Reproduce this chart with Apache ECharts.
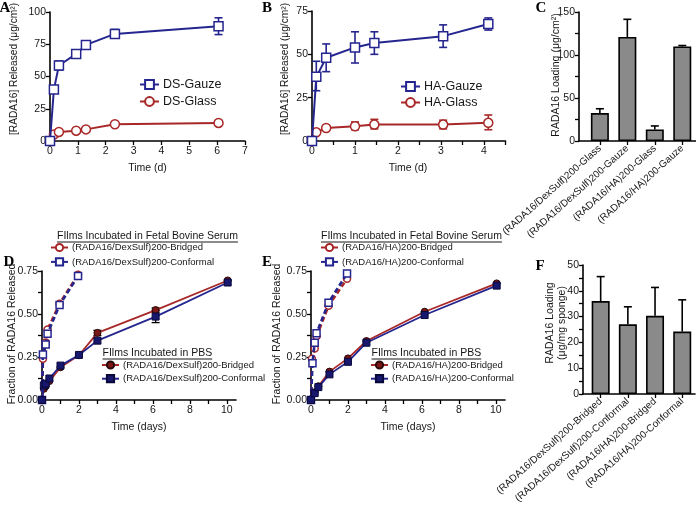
<!DOCTYPE html>
<html><head><meta charset="utf-8">
<script src="https://cdn.jsdelivr.net/npm/echarts@6/dist/echarts.min.js"></script>
<style>html,body{margin:0;padding:0;background:#fff}#c{width:696px;height:509px}</style>
</head><body><div id="c"></div><script>
// ---------- DATA ----------
// Panel A (DS) : [time (d), released ug/cm2]
const aGauze = [[0,0],[0.14,40],[0.32,58.5],[0.94,67.5],[1.29,74.5],[2.33,83],[6.05,89]];
const aGauzeErr = [[0.32,55,62],[0.94,65.5,69.5],[2.33,80,86.5],[6.05,82.5,95.5]];
const aGlass = [[0,0],[0.14,5],[0.32,7],[0.94,8],[1.29,9],[2.33,13],[6.05,14]];
// Panel B (HA)
const bGauze = [[0,0],[0.1,37],[0.33,48],[1.0,54],[1.45,56.5],[3.05,60.5],[4.1,67.5]];
const bGauzeErr = [[0.1,29,46],[0.33,40,56],[1.0,45,63],[1.45,50,63],[3.05,54,67],[4.1,64,71]];
const bGlass = [[0,0],[0.1,5],[0.33,7.5],[1.0,8.5],[1.45,9.5],[3.05,9.5],[4.1,10.5]];
const bGlassErr = [[0.33,6.5,8.5],[1.0,6.5,11],[1.45,7,12.5],[3.05,7,12],[4.1,6.5,15]];
// Panel C
const cCats = ['(RADA16/DexSulf)200-Glass','(RADA16/DexSulf)200-Gauze','(RADA16/HA)200-Glass','(RADA16/HA)200-Gauze'];
const cVals = [32.5,121,13.5,110];
const cErrHigh = [37.5,141.5,17.5,111];
// Panel D
const dSerumBridged = [[0,0],[0.05,0.24],[0.2,0.335],[0.3,0.41],[0.95,0.56],[1.95,0.728]];
const dSerumConformal = [[0,0],[0.05,0.265],[0.2,0.323],[0.3,0.385],[0.95,0.552],[1.95,0.721]];
const dPbsBridged = [[0,0],[0.1,0.065],[0.2,0.08],[0.4,0.11],[1.0,0.19],[2.0,0.26],[3.0,0.39],[6.15,0.523],[10.05,0.695]];
const dPbsConformal = [[0,0],[0.1,0.085],[0.2,0.095],[0.4,0.125],[1.0,0.2],[2.0,0.262],[3.0,0.345],[6.15,0.485],[10.05,0.683]];
const dPbsBridgedErr = [[3.0,0.375,0.405],[6.15,0.51,0.535]];
const dPbsConformalErr = [[6.15,0.45,0.52]];
// Panel E
const eSerumBridged = [[0,0],[0.05,0.24],[0.2,0.30],[0.3,0.37],[0.95,0.548],[1.95,0.705]];
const eSerumConformal = [[0,0],[0.08,0.213],[0.2,0.333],[0.3,0.388],[0.95,0.566],[1.95,0.736]];
const ePbsBridged = [[0,0],[0.2,0.045],[0.4,0.08],[1.0,0.165],[2.0,0.242],[3.0,0.343],[6.15,0.513],[10.05,0.678]];
const ePbsConformal = [[0,0],[0.2,0.04],[0.4,0.075],[1.0,0.149],[2.0,0.222],[3.0,0.333],[6.15,0.494],[10.05,0.665]];
// Panel F
const fCats = ['(RADA16/DexSulf)200-Bridged','(RADA16/DexSulf)200-Conformal','(RADA16/HA)200-Bridged','(RADA16/HA)200-Conformal'];
const fVals = [36,27,30.3,24.2];
const fErrHigh = [45.5,33.8,41.3,36.5];
// Tick labels
const aXTicks = [0,1,2,3,4,5,6,7];
const bXLabels = [0,1,2,3,4];
const deXLabels = [0,2,4,6,8,10];
const deYLabels = ['0.00','0.25','0.50','0.75'];

// ---------- STYLE ----------
const NAVY='#25258f', RED='#a82828', MAROON='#7a1616', DNAVY='#17176e', GRAY='#8a8a8a';
const FONT='"Liberation Sans", Arial, sans-serif';
const TXT='#161616';

function axis(type, gi, min, max, extra){
  const o = {type:'value', gridIndex:gi, min:min, max:max,
    splitLine:{show:false},
    axisLine:{show:true, onZero:false, lineStyle:{color:'#000', width:1.6}},
    axisTick:{show:true, length:4, inside:false, lineStyle:{color:'#000', width:1.3}},
    axisLabel:{color:TXT, fontSize:10.5, fontFamily:FONT, margin: type==='x'?5:4}
  };
  if(extra){
    for(const k in extra){
      if(typeof extra[k]==='object' && !Array.isArray(extra[k]) && o[k]) o[k]=Object.assign({},o[k],extra[k]);
      else o[k]=extra[k];
    }
  }
  return o;
}

const chart = echarts.init(document.getElementById('c'));

const grids = [
  {left:50, top:12, width:195, height:129},     // A
  {left:312, top:11, width:193.5, height:130},  // B
  {left:579, top:12, width:118, height:129},    // C
  {left:42, top:271, width:194, height:129},    // D
  {left:311, top:271, width:194, height:129},   // E
  {left:583, top:265, width:112, height:129}    // F
];

const xAxes = [
  axis('x',0,0,7,{interval:1}),
  axis('x',1,0,4.5,{interval:0.5, axisLabel:{customValues:bXLabels}}),
  axis('x',2,-0.76,3.5,{axisTick:{customValues:[0,1,2,3]}, axisLabel:{customValues:[0,1,2,3], rotate:42, fontSize:10, margin:6, formatter:v=>cCats[Math.round(v)]}}),
  axis('x',3,0,10.5,{interval:1, axisTick:{customValues:[0,1,2,3,4,5,6,7,8,9,10]}, axisLabel:{customValues:deXLabels}}),
  axis('x',4,0,10.5,{interval:1, axisTick:{customValues:[0,1,2,3,4,5,6,7,8,9,10]}, axisLabel:{customValues:deXLabels}}),
  axis('x',5,-0.65,3.47,{axisTick:{customValues:[0,1,2,3]}, axisLabel:{customValues:[0,1,2,3], rotate:42, fontSize:10, margin:6, formatter:v=>fCats[Math.round(v)]}})
];
const yAxes = [
  axis('y',0,0,100,{interval:25}),
  axis('y',1,0,75,{interval:25}),
  axis('y',2,0,150,{interval:50, minorTick:{show:true, splitNumber:2, length:4, lineStyle:{color:'#000', width:1.3}}}),
  axis('y',3,0,0.75,{interval:0.25, minorTick:{show:true, splitNumber:2, length:4, lineStyle:{color:'#000', width:1.3}}, axisLabel:{formatter:v=>deYLabels[Math.round(v/0.25)]}}),
  axis('y',4,0,0.75,{interval:0.25, minorTick:{show:true, splitNumber:2, length:4, lineStyle:{color:'#000', width:1.3}}, axisLabel:{formatter:v=>deYLabels[Math.round(v/0.25)]}}),
  axis('y',5,0,50,{interval:10, minorTick:{show:true, splitNumber:2, length:4, lineStyle:{color:'#000', width:1.3}}})
];

function lineS(name, gi, data, color, symbol, filled, opts){
  opts = opts||{};
  return {type:'line', name:name, xAxisIndex:gi, yAxisIndex:gi, data:data, clip:false,
    symbol:symbol, symbolSize:opts.size||8, z:opts.z||3,
    lineStyle:{color:color, width:opts.lw||2, type:opts.dash?[5,3]:'solid'},
    itemStyle:{color: filled?(opts.fill||color):'#fff', borderColor: opts.edge||color, borderWidth:opts.bw||1.5},
    emphasis:{disabled:true}, animation:false};
}
function errS(gi, data, color, lw, capLow, z){
  return {type:'custom', xAxisIndex:gi, yAxisIndex:gi, data:data, clip:false, z:z||2, silent:true, animation:false,
    encode:{x:0, y:[1,2]},
    renderItem:function(params, api){
      const x=api.value(0), lo=api.value(1), hi=api.value(2);
      const a=api.coord([x,lo]), b=api.coord([x,hi]);
      const w=4, st={stroke:color, lineWidth:lw};
      const ch=[{type:'line', shape:{x1:a[0],y1:a[1],x2:b[0],y2:b[1]}, style:st},
                {type:'line', shape:{x1:b[0]-w,y1:b[1],x2:b[0]+w,y2:b[1]}, style:st}];
      if(capLow) ch.push({type:'line', shape:{x1:a[0]-w,y1:a[1],x2:a[0]+w,y2:a[1]}, style:st});
      return {type:'group', children:ch};
    }};
}
function barS(gi, vals, w){
  return {type:'bar', xAxisIndex:gi, yAxisIndex:gi, data:vals.map((v,i)=>[i,v]), barWidth:w, z:2, animation:false,
    itemStyle:{color:GRAY, borderColor:'#000', borderWidth:1.6}};
}

const labelMap = {
  aG:'DS-Gauze', aL:'DS-Glass', bG:'HA-Gauze', bL:'HA-Glass',
  dSB:'(RADA16/DexSulf)200-Bridged', dSC:'(RADA16/DexSulf)200-Conformal',
  dPB:'(RADA16/DexSulf)200-Bridged', dPC:'(RADA16/DexSulf)200-Conformal',
  eSB:'(RADA16/HA)200-Bridged', eSC:'(RADA16/HA)200-Conformal',
  ePB:'(RADA16/HA)200-Bridged', ePC:'(RADA16/HA)200-Conformal'
};

const series = [
  // A
  errS(0, aGauzeErr, NAVY, 1.6, true),
  lineS('aL',0,aGlass,RED,'circle',false,{size:9}),
  lineS('aG',0,aGauze,NAVY,'rect',false,{size:9,z:4}),
  // B
  errS(1, bGlassErr, RED, 1.6, true),
  errS(1, bGauzeErr, NAVY, 1.6, true),
  lineS('bL',1,bGlass,RED,'circle',false,{size:9}),
  lineS('bG',1,bGauze,NAVY,'rect',false,{size:9,z:4}),
  // C
  barS(2, cVals, 18),
  errS(2, cVals.map((v,i)=>[i,v,cErrHigh[i]]), '#000', 1.6, false, 1),
  // D
  lineS('dSB',3,dSerumBridged,RED,'circle',false,{size:7,dash:true,lw:2.6}),
  lineS('dSC',3,dSerumConformal,NAVY,'rect',false,{size:7,dash:true,lw:2.6,z:4}),
  errS(3, dPbsBridgedErr, '#000', 1.3, true),
  errS(3, dPbsConformalErr, '#000', 1.3, true),
  lineS('dPB',3,dPbsBridged,RED,'circle',true,{size:7,fill:MAROON,edge:'#2a0808',bw:1,lw:1.8}),
  lineS('dPC',3,dPbsConformal,NAVY,'rect',true,{size:7,fill:DNAVY,edge:'#08083a',bw:1,lw:1.8,z:4}),
  // E
  lineS('eSB',4,eSerumBridged,RED,'circle',false,{size:7,dash:true,lw:2.6}),
  lineS('eSC',4,eSerumConformal,NAVY,'rect',false,{size:7,dash:true,lw:2.6,z:4}),
  lineS('ePB',4,ePbsBridged,RED,'circle',true,{size:7,fill:MAROON,edge:'#2a0808',bw:1,lw:1.8}),
  lineS('ePC',4,ePbsConformal,NAVY,'rect',true,{size:7,fill:DNAVY,edge:'#08083a',bw:1,lw:1.8,z:4}),
  // F
  barS(5, fVals, 18),
  errS(5, fVals.map((v,i)=>[i,v,fErrHigh[i]]), '#000', 1.6, false, 1)
];

function legend(names, left, top, iw, ih, gap, fs){
  return {data:names, left:left, top:top, orient:'vertical', itemWidth:iw, itemHeight:ih, itemGap:gap,
    selectedMode:false, padding:0, formatter:n=>labelMap[n],
    lineStyle:{type:'solid'},
    textStyle:{color:TXT, fontSize:fs, fontFamily:FONT, padding:[0,0,0,-1]}};
}
const legends = [
  legend(['aG','aL'],139,78,19,11,4,12.5),
  legend(['bG','bL'],400,80,19,11,3,12.5),
  legend(['dSB','dSC'],50,242.5,17,9,4.4,9.5),
  legend(['dPB','dPC'],101,360,17,9,3.7,9.5),
  legend(['eSB','eSC'],320,242.5,17,9,4.4,9.5),
  legend(['ePB','ePC'],370,360,17,9,3.7,9.5)
];

// text measurement for underlines
const mctx = document.createElement('canvas').getContext('2d');
function tw(t, font){ mctx.font=font; return mctx.measureText(t).width; }
const TF = '10.5px "Liberation Sans"';
function underlined(t, x, y){
  const w = tw(t, TF);
  return [{type:'text', x:x, y:y, style:{text:t, font:TF, fill:TXT, align:'left', verticalAlign:'middle'}},
          {type:'line', shape:{x1:x, y1:y+6, x2:x+w, y2:y+6}, style:{stroke:TXT, lineWidth:1}}];
}
function vtext(t, x, y, fs){
  return {type:'text', x:x, y:y, rotation:Math.PI/2, style:{text:t, font:(fs||10.5)+'px "Liberation Sans"', fill:TXT, align:'center', verticalAlign:'middle'}};
}
function htext(t, x, y){
  return {type:'text', x:x, y:y, style:{text:t, font:'10.5px "Liberation Sans"', fill:TXT, align:'center', verticalAlign:'middle'}};
}
function plabel(t, x, y){
  return {type:'text', x:x, y:y, style:{text:t, font:'bold 15px "Liberation Serif"', fill:'#000', align:'center', verticalAlign:'middle'}};
}

const graphics = [
  plabel('A',5,8), plabel('B',267,8), plabel('C',541,8),
  plabel('D',9,262), plabel('E',267,262), plabel('F',540,266),
  vtext('[RADA16] Released (μg/cm²)',14,69,10.2),
  vtext('[RADA16] Released (μg/cm²)',285,69,10.2),
  vtext('RADA16 Loading (μg/cm²)',556,75,10.5),
  vtext('Fraction of RADA16 Released',12,334,10.5),
  vtext('Fraction of RADA16 Released',277,334,10.5),
  vtext('RADA16 Loading',550,323,10.5),
  vtext('(μg/mg sponge)',562,323,10.5),
  htext('Time (d)',147.5,168), htext('Time (d)',408,168),
  htext('Time (days)',139,427), htext('Time (days)',408,427)
].concat(underlined('FIlms Incubated in Fetal Bovine Serum',57,236))
 .concat(underlined('FIlms Incubated in PBS',102.5,353))
 .concat(underlined('FIlms Incubated in Fetal Bovine Serum',321,236))
 .concat(underlined('FIlms Incubated in PBS',371.5,353));

chart.setOption({
  backgroundColor:'#fff',
  animation:false,
  grid:grids, xAxis:xAxes, yAxis:yAxes, series:series, legend:legends,
  graphic:graphics
});
</script></body></html>
